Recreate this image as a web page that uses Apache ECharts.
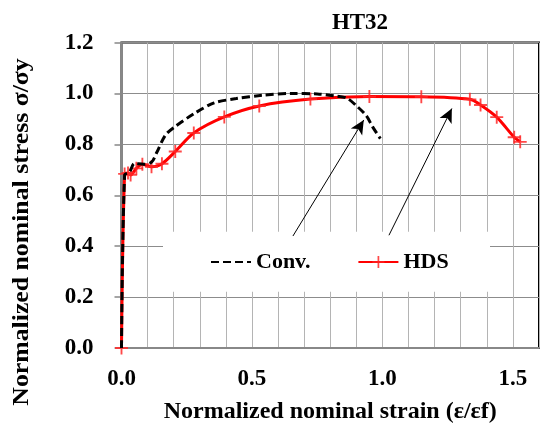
<!DOCTYPE html>
<html>
<head>
<meta charset="utf-8">
<script src="https://cdn.jsdelivr.net/npm/echarts@6/dist/echarts.min.js"></script>
<style>
html, body { margin: 0; padding: 0; background: #fff; }
#ec { width: 542px; height: 429px; }
</style>
</head>
<body>
<div id="ec"></div>
<script>
// HDS curve (red, + markers)
const hdsX = [0, 0.012, 0.025, 0.035, 0.057, 0.08, 0.115, 0.155, 0.206, 0.277, 0.394, 0.528, 0.724, 0.95, 1.149, 1.335, 1.376, 1.438, 1.505, 1.528];
const hdsY = [0, 0.684, 0.688, 0.68, 0.706, 0.722, 0.712, 0.724, 0.772, 0.845, 0.908, 0.951, 0.978, 0.988, 0.987, 0.977, 0.955, 0.907, 0.828, 0.81];
// Conv. curve (black dashed)
const convX = [0, 0.012, 0.03, 0.05, 0.085, 0.115, 0.135, 0.168, 0.2, 0.28, 0.355, 0.44, 0.54, 0.65, 0.75, 0.814, 0.863, 0.9, 0.938, 0.963, 0.992];
const convY = [0, 0.68, 0.69, 0.725, 0.722, 0.73, 0.768, 0.836, 0.866, 0.922, 0.963, 0.98, 0.993, 1.0, 0.998, 0.991, 0.982, 0.952, 0.913, 0.868, 0.823];
// annotation arrows (legend -> curve)
const arrowFromX = [0.657, 1.025];
const arrowFromY = [0.44, 0.443];
const arrowToX = [0.9285, 1.266];
const arrowToY = [0.896, 0.941];
const yTicks = [0, 0.2, 0.4, 0.6, 0.8, 1.0, 1.2];

const font = "'Liberation Serif', 'Times New Roman', serif";
const zip = (xs, ys) => xs.map((x, i) => [x, ys[i]]);

const chart = echarts.init(document.getElementById('ec'));
chart.setOption({
  animation: false,
  title: {
    text: 'HT32',
    left: 355,
    top: 7,
    textAlign: 'center',
    textStyle: { fontFamily: font, fontWeight: 'bold', fontSize: 23, color: '#000' },
  },
  grid: {
    left: 121.5,
    right: -9.1,
    top: 42.6,
    bottom: 76.2,
    show: true,
    borderColor: '#000',
    borderWidth: 2,
  },
  legend: {
    data: [
      { name: 'Conv.', itemStyle: { opacity: 0 } },
      { name: 'HDS' },
    ],
    left: 210,
    top: 251,
    itemWidth: 40,
    itemHeight: 15,
    itemGap: 47,
    padding: 0,
    textStyle: { fontFamily: font, fontWeight: 'bold', fontSize: 22, color: '#000' },
  },
  graphic: [
    {
      type: 'rect',
      z: 1,
      shape: { x: 163, y: 231.7, width: 327, height: 60 },
      style: { fill: '#fff' },
    },
    {
      type: 'text',
      z: 5,
      x: 22,
      y: 232,
      rotation: Math.PI / 2,
      scaleX: 1.12,
      style: {
        text: 'Normalized nominal stress σ/σy',
        fontFamily: font,
        fontWeight: 'bold',
        fontSize: 23,
        fill: '#000',
        align: 'center',
        verticalAlign: 'middle',
      },
    },
  ],
  xAxis: {
    type: 'value',
    min: 0,
    max: 1.6,
    interval: 0.1,
    name: 'Normalized nominal strain (ε/εf)',
    nameLocation: 'middle',
    nameGap: 52,
    nameTextStyle: { fontFamily: font, fontWeight: 'bold', fontSize: 24, color: '#000' },
    axisLine: { lineStyle: { color: '#888', width: 2 } },
    axisTick: { show: false },
    axisLabel: {
      margin: 20,
      fontFamily: font,
      fontWeight: 'bold',
      fontSize: 23,
      color: '#000',
      formatter: (v) => (Math.abs(v * 2 - Math.round(v * 2)) < 1e-6 ? v.toFixed(1) : ''),
    },
    splitLine: { show: true, lineStyle: { color: '#b4b4b4', width: 1 } },
  },
  yAxis: {
    type: 'value',
    min: yTicks[0],
    max: yTicks[yTicks.length - 1],
    interval: 0.2,
    axisLine: { show: true, lineStyle: { color: '#888', width: 2.5 } },
    axisTick: { show: true, length: 7, lineStyle: { color: '#888', width: 1.5 } },
    axisLabel: {
      margin: 28,
      fontFamily: font,
      fontWeight: 'bold',
      fontSize: 23,
      color: '#000',
      formatter: (v) => v.toFixed(1),
    },
    splitLine: { show: true, lineStyle: { color: '#8c8c8c', width: 1 } },
  },
  series: [
    {
      name: 'HDS',
      type: 'line',
      z: 3,
      data: zip(hdsX, hdsY),
      smooth: 0.3,
      symbol: 'path://M-1,-7H1V7H-1ZM-7,-1H7V1H-7Z',
      symbolSize: 13,
      showAllSymbol: true,
      lineStyle: { color: '#ff0000', width: 3 },
      itemStyle: { color: 'rgba(255,40,40,0.85)' },
    },
    {
      name: 'Conv.',
      type: 'line',
      z: 4,
      data: zip(convX, convY),
      smooth: 0.3,
      symbol: 'none',
      lineStyle: { color: '#000', width: 3, type: [8, 4] },
      itemStyle: { color: '#000' },
      markLine: {
        silent: true,
        symbol: ['none', 'arrow'],
        symbolSize: [10, 14],
        label: { show: false },
        lineStyle: { color: '#000', width: 1, type: 'solid' },
        data: arrowFromX.map((x, i) => [
          { coord: [x, arrowFromY[i]] },
          { coord: [arrowToX[i], arrowToY[i]] },
        ]),
      },
    },
  ],
});
</script>
</body>
</html>
